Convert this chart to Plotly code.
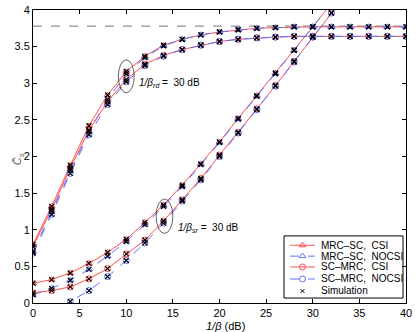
import plotly.graph_objects as go

# x axis: 1/beta in dB, points every 2 dB
snr_db = list(range(0, 42, 2))

# upper group: 1/beta_rd = 30 dB
mrc_sc_csi_rd = [0.80, 1.32, 1.88, 2.42, 2.84, 3.16, 3.37, 3.52, 3.60, 3.66, 3.70,
                 3.73, 3.75, 3.76, 3.77, 3.77, 3.77, 3.77, 3.77, 3.77, 3.77]
mrc_sc_nocsi_rd = [0.70, 1.25, 1.81, 2.34, 2.78, 3.13, 3.35, 3.51, 3.60, 3.66, 3.70,
                   3.73, 3.75, 3.76, 3.77, 3.77, 3.77, 3.77, 3.77, 3.77, 3.77]
sc_mrc_csi_rd = [0.77, 1.28, 1.84, 2.36, 2.75, 3.05, 3.26, 3.38, 3.46, 3.52, 3.57,
                 3.60, 3.62, 3.63, 3.64, 3.64, 3.64, 3.64, 3.64, 3.64, 3.64]
sc_mrc_nocsi_rd = [0.68, 1.21, 1.77, 2.30, 2.71, 3.02, 3.24, 3.37, 3.46, 3.52, 3.57,
                   3.60, 3.62, 3.63, 3.64, 3.64, 3.64, 3.64, 3.64, 3.64, 3.64]

# lower group: 1/beta_sr = 30 dB
mrc_sc_csi_sr = [0.27, 0.32, 0.41, 0.54, 0.69, 0.87, 1.10, 1.34, 1.61, 1.90, 2.20,
                 2.52, 2.83, 3.14, 3.45, 3.77, 4.09, 4.40, 4.72, 5.03, 5.35]
mrc_sc_nocsi_sr = [0.11, 0.20, 0.31, 0.46, 0.64, 0.84, 1.07, 1.32, 1.59, 1.89, 2.19,
                   2.51, 2.82, 3.13, 3.45, 3.77, 4.09, 4.40, 4.72, 5.03, 5.35]
sc_mrc_csi_sr = [0.14, 0.17, 0.22, 0.33, 0.47, 0.67, 0.86, 1.12, 1.41, 1.70, 2.02,
                 2.33, 2.65, 2.97, 3.30, 3.63, 3.96, 4.29, 4.61, 4.94, 5.26]
sc_mrc_nocsi_sr = [-0.35, -0.15, 0.02, 0.17, 0.36, 0.58, 0.82, 1.09, 1.39, 1.68, 2.00,
                   2.32, 2.64, 2.96, 3.29, 3.63, 3.96, 4.29, 4.61, 4.94, 5.26]

ceiling = 3.78

legend_names = ["MRC\u2013SC,  CSI", "MRC\u2013SC,  NOCSI", "SC\u2013MRC,  CSI",
                "SC\u2013MRC,  NOCSI", "Simulation"]

red = "rgb(255,80,80)"
blue = "rgb(90,115,255)"
FONT = "Liberation Sans, Arial, sans-serif"

fig = go.Figure()

series = [
    (mrc_sc_csi_rd, mrc_sc_csi_sr, red, "solid", "triangle-up-open"),
    (mrc_sc_nocsi_rd, mrc_sc_nocsi_sr, blue, "dash", "triangle-up-open"),
    (sc_mrc_csi_rd, sc_mrc_csi_sr, red, "solid", "circle-open"),
    (sc_mrc_nocsi_rd, sc_mrc_nocsi_sr, blue, "dash", "circle-open"),
]

# dashed ceiling line
fig.add_trace(go.Scatter(x=[0, 40], y=[ceiling, ceiling], mode="lines",
                         line=dict(color="rgb(80,80,80)", width=0.8, dash="dash"),
                         hoverinfo="skip"))

for y_rd, y_sr, col, dash, sym in series:
    for ys in (y_rd, y_sr):
        fig.add_trace(go.Scatter(
            x=snr_db, y=ys, mode="lines+markers",
            line=dict(color=col, width=1, dash=dash),
            marker=dict(symbol=sym, size=6, color=col, line=dict(width=1, color=col)),
        ))

# simulation markers on all curves
sim_x, sim_y = [], []
for y_rd, y_sr, _, _, _ in series:
    sim_x += snr_db + snr_db
    sim_y += y_rd + y_sr
fig.add_trace(go.Scatter(x=sim_x, y=sim_y, mode="markers",
                         marker=dict(symbol="x-thin-open", size=5, color="black",
                                     line=dict(width=1.2, color="black"))))

# ellipses marking the two groups
fig.add_shape(type="circle", x0=9.15, x1=10.85, y0=2.87, y1=3.32,
              line=dict(color="rgb(60,60,60)", width=0.8))
fig.add_shape(type="circle", x0=13.2, x1=15.0, y0=0.95, y1=1.42,
              line=dict(color="rgb(60,60,60)", width=0.8))

fig.add_annotation(x=11.1, y=3.0, xanchor="left", showarrow=False,
                   text="<i>1/β<sub>rd</sub></i> =  30 dB", font=dict(size=10, color="black"))
fig.add_annotation(x=15.3, y=1.02, xanchor="left", showarrow=False,
                   text="<i>1/β<sub>sr</sub></i> =  30 dB", font=dict(size=10, color="black"))

# legend drawn by hand (plotly's legend rows are too tall for this size)
fig.add_shape(type="rect", xref="paper", yref="paper", x0=0.673, x1=0.992, y0=0.017, y1=0.229,
              line=dict(color="black", width=1), fillcolor="white", layer="below")
row_y = [0.197, 0.160, 0.123, 0.082, 0.041]
styles = [(red, "solid", "triangle-up-open"), (blue, "dash", "triangle-up-open"),
          (red, "solid", "circle-open"), (blue, "dash", "circle-open")]
for ry, (col, dash, sym) in zip(row_y, styles):
    fig.add_trace(go.Scatter(x=[0.689, 0.756], y=[ry, ry], xaxis="x2", yaxis="y2",
                             mode="lines", line=dict(color=col, width=1, dash=dash),
                             hoverinfo="skip"))
    fig.add_trace(go.Scatter(x=[0.7225], y=[ry], xaxis="x2", yaxis="y2", mode="markers",
                             marker=dict(symbol=sym, size=6, color=col, line=dict(width=1, color=col)),
                             hoverinfo="skip"))
fig.add_trace(go.Scatter(x=[0.7225], y=[row_y[4]], xaxis="x2", yaxis="y2", mode="markers",
                         marker=dict(symbol="x-thin-open", size=4, color="black",
                                     line=dict(width=1, color="black")), hoverinfo="skip"))
for ry, name in zip(row_y, legend_names):
    fig.add_annotation(xref="paper", yref="paper", x=0.767, y=ry, xanchor="left",
                       yanchor="middle", showarrow=False, text=name,
                       font=dict(size=10, color="black"))

axis_common = dict(showline=True, linecolor="black", linewidth=1, mirror="ticks",
                   ticks="inside", ticklen=4, tickcolor="black", showgrid=False,
                   zeroline=False, tickfont=dict(size=11, color="black"), automargin=False)

fig.update_xaxes(range=[0, 40], dtick=5, **axis_common)
fig.update_yaxes(range=[0, 4], dtick=0.5, **axis_common)

fig.add_annotation(xref="paper", yref="paper", x=0.515, y=0, yanchor="top", yshift=-15,
                   showarrow=False, text="<i>1/β</i> (dB)", font=dict(size=11, color="black"))
fig.add_annotation(xref="paper", yref="paper", x=-0.062, y=0.49, showarrow=False,
                   textangle=-90, text="<i>C̄<sub>s</sub></i>",
                   font=dict(size=11, color="rgb(90,90,90)"))

fig.update_layout(
    width=415, height=332,
    margin=dict(l=33, r=9, t=10, b=29),
    plot_bgcolor="white", paper_bgcolor="white",
    font=dict(family=FONT, size=11, color="black"),
    showlegend=False,
    xaxis2=dict(overlaying="x", range=[0, 1], visible=False),
    yaxis2=dict(overlaying="y", range=[0, 1], visible=False),
)

# drop the browser's default 8px body margin so the figure sits at the window origin
fig.write_html("out.html", config={"displayModeBar": False},
               post_script="document.body.style.margin='0';")
